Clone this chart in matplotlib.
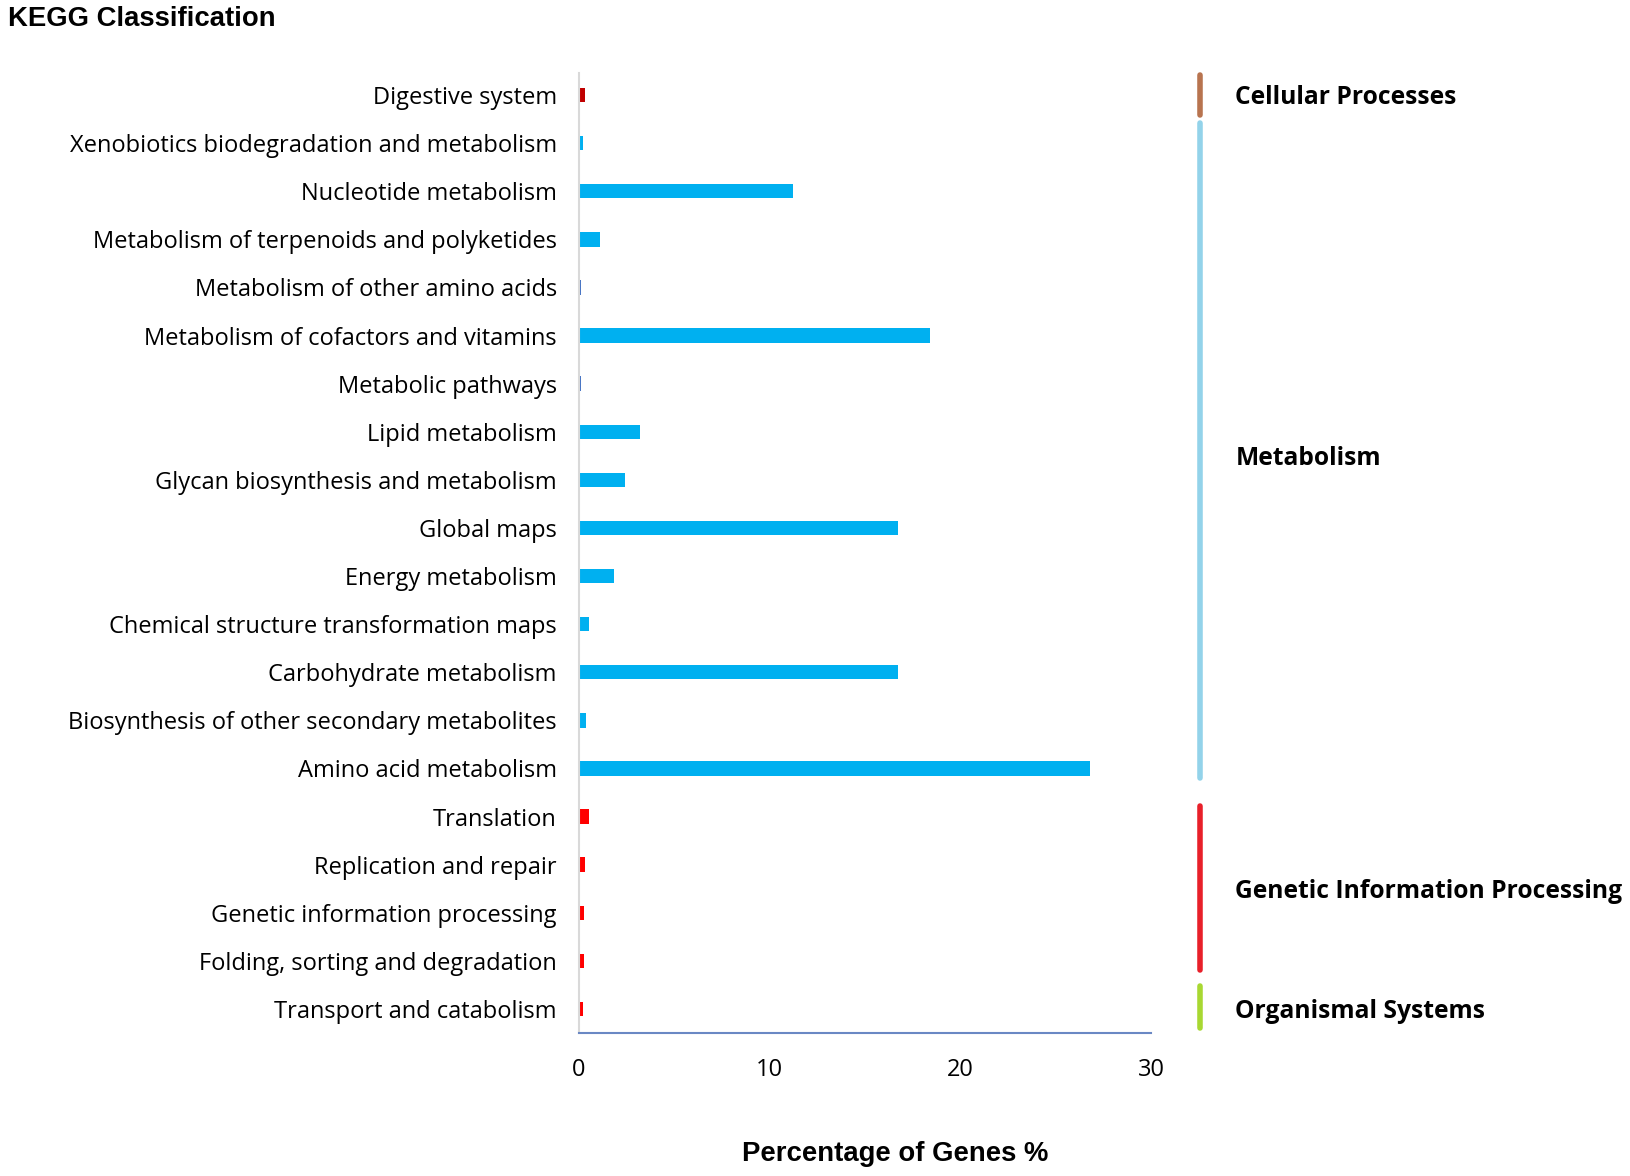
import matplotlib.pyplot as plt
import numpy as np

# categories listed top to bottom as in the chart
categories = [
    "Digestive system",
    "Xenobiotics biodegradation and metabolism",
    "Nucleotide metabolism",
    "Metabolism of terpenoids and polyketides",
    "Metabolism of other amino acids",
    "Metabolism of cofactors and vitamins",
    "Metabolic pathways",
    "Lipid metabolism",
    "Glycan biosynthesis and metabolism",
    "Global maps",
    "Energy metabolism",
    "Chemical structure transformation maps",
    "Carbohydrate metabolism",
    "Biosynthesis of other secondary metabolites",
    "Amino acid metabolism",
    "Translation",
    "Replication and repair",
    "Genetic information processing",
    "Folding, sorting and degradation",
    "Transport and catabolism",
]
percent = [0.3, 0.2, 11.2, 1.1, 0.1, 18.4, 0.1, 3.2, 2.4, 16.7,
           1.85, 0.5, 16.7, 0.35, 26.8, 0.5, 0.3, 0.25, 0.25, 0.2]
bar_colors = ["#C00000", "#00B0F0", "#00B0F0", "#00B0F0", "#4472C4",
              "#00B0F0", "#4472C4", "#00B0F0", "#00B0F0", "#00B0F0",
              "#00B0F0", "#00B0F0", "#00B0F0", "#00B0F0", "#00B0F0",
              "#FF0000", "#FF0000", "#FF0000", "#FF0000", "#FF0000"]

# groups: name, first index, last index
group_names = ["Cellular Processes", "Metabolism",
               "Genetic Information Processing", "Organismal Systems"]
group_first = [0, 1, 15, 19]
group_last = [0, 14, 18, 19]
group_colors = ["#B8744F", "#93D3EA", "#E8202A", "#A8D832"]

xticks = [0, 10, 20, 30]

# bracket padding above / below each group (hand drawn in the original)
pad_top = [0.41, 0.42, 0.21, 0.48]
pad_bot = [0.41, 0.2, 0.2, 0.39]

fig = plt.figure(figsize=(16.31, 11.76), dpi=100)
ax = fig.add_axes([0.355, 0.1216, 0.351, 0.8164])

ypos = np.arange(len(categories))
ax.barh(ypos, percent, height=0.3, color=bar_colors)

ax.set_ylim(len(categories) - 0.5, -0.46)
ax.set_xlim(0, 30)
ax.set_yticks(ypos)
ax.set_yticklabels(categories, fontsize=17, family="Open Sans")
ax.set_xticks(xticks)
ax.set_xticklabels([str(t) for t in xticks], fontsize=17, family="Open Sans")
ax.tick_params(length=0, pad=16, axis="y")
ax.tick_params(length=0, pad=18, axis="x")

for s in ["top", "right"]:
    ax.spines[s].set_visible(False)
ax.spines["left"].set_color("#D9D9D9")
ax.spines["left"].set_linewidth(1.5)
ax.spines["bottom"].set_color("#6A88C4")
ax.spines["bottom"].set_linewidth(1.5)

# group brackets on the right
for i in range(len(group_names)):
    a, b = group_first[i], group_last[i]
    ax.plot([32.55, 32.55], [a - pad_top[i], b + pad_bot[i]],
            color=group_colors[i], lw=4, solid_capstyle="round", clip_on=False)
    ax.text(34.4, (a + b) / 2 + 0.06, group_names[i], fontsize=17.7,
            fontweight="bold", family="Open Sans", va="center", ha="left")

fig.text(0.005, 0.984, "KEGG Classification", fontsize=19.8, fontweight="bold",
         family="Liberation Sans", va="center", ha="left")
fig.text(0.549, 0.019, "Percentage of Genes %", fontsize=19.8, fontweight="bold",
         family="Liberation Sans", va="center", ha="center")

fig.savefig("out.png", dpi=100)
